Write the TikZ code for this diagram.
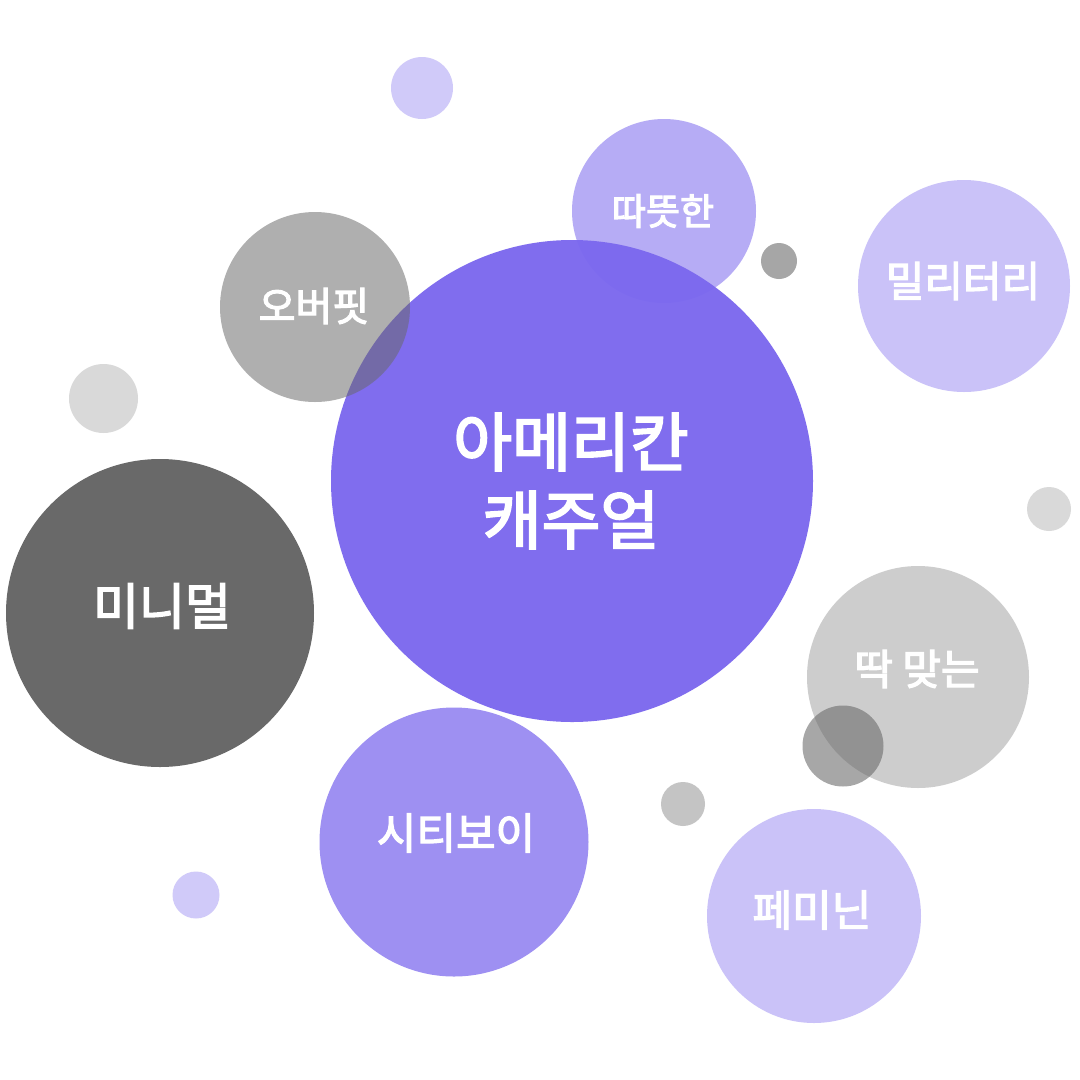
\documentclass[tikz,border=0pt]{standalone}
\usepackage{fontspec}
\setmainfont{Noto Sans CJK KR}[FakeBold=3]
\definecolor{msb}{RGB}{123,104,238}
\definecolor{dg}{RGB}{105,105,105}
\begin{document}
\begin{tikzpicture}[x=1pt,y=-1pt,
  bub/.style={circle, inner sep=0pt, minimum size=#1, draw=none},
  lbl/.style={text=white, font=\fontsize{#1}{#1}\selectfont, inner sep=0pt, align=center}]
\useasboundingbox (0,0) rectangle (1080,1080);
\fill[white] (0,0) rectangle (1080,1080);
% bubbles
\node[bub=184pt, fill=msb, fill opacity=0.55] (ddat) at (664,211) {};
\node[bub=482pt, fill=msb, fill opacity=0.96] (amer) at (572,481) {};
\node[bub=190pt, fill=dg, fill opacity=0.53] (over) at (315,307) {};
\node[bub=212pt, fill=msb, fill opacity=0.4] (mil) at (964,286) {};
\node[bub=62pt, fill=msb, fill opacity=0.35] (s1) at (422,88) {};
\node[bub=36pt, fill=dg, fill opacity=0.59] (s2) at (779,261) {};
\node[bub=69pt, fill=dg, fill opacity=0.25] (s3) at (103.5,398.5) {};
\node[bub=308pt, fill=dg] (mini) at (160,613) {};
\node[bub=44pt, fill=dg, fill opacity=0.25] (s4) at (1049,509) {};
\node[bub=222pt, fill=dg, fill opacity=0.33] (ttak) at (918,677) {};
\node[bub=81pt, fill=dg, fill opacity=0.58] (s5) at (843,746) {};
\node[bub=269pt, fill=msb, fill opacity=0.73] (city) at (454,842) {};
\node[bub=44pt, fill=dg, fill opacity=0.39] (s6) at (683,804) {};
\node[bub=214pt, fill=msb, fill opacity=0.4] (femi) at (814,916) {};
\node[bub=47pt, fill=msb, fill opacity=0.35] (s7) at (196,895) {};
% labels
\node[lbl=64, font=\fontsize{64}{78}\selectfont] (tamer) at (571,481) {아메리칸\\캐주얼};
\node[lbl=37] (tddat) at (663,211) {따뜻한};
\node[lbl=40] (tover) at (314,306) {오버핏};
\node[lbl=42] (tmil) at (963,281) {밀리터리};
\node[lbl=50] (tmini) at (162,606) {미니멀};
\node[lbl=42] (tttak) at (917,669) {딱 맞는};
\node[lbl=43] (tcity) at (456,833) {시티보이};
\node[lbl=43] (tfemi) at (812,910) {페미닌};
\end{tikzpicture}
\end{document}
